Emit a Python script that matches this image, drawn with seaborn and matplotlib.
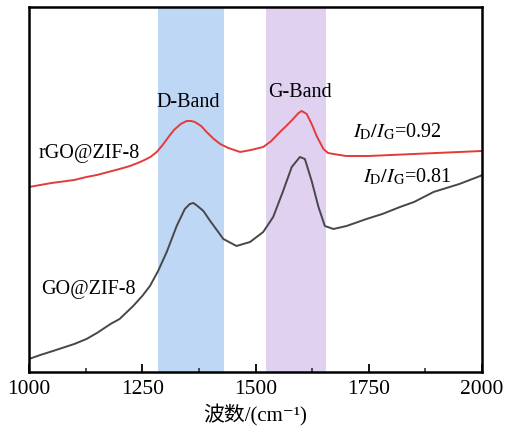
import matplotlib
matplotlib.use("Agg")
import matplotlib.pyplot as plt
from matplotlib.ticker import MultipleLocator
import pandas as pd
import seaborn as sns

# Raman spectra (wavenumber in cm^-1, intensity in arbitrary units)
rgo_wavenumber = [1000, 1050, 1100, 1127, 1150, 1175, 1200, 1223, 1240, 1255, 1268, 1282,
                  1295, 1308, 1320, 1335, 1348, 1358, 1366, 1380, 1392, 1408, 1422, 1440,
                  1466, 1490, 1517, 1535, 1554, 1570, 1583, 1595, 1602, 1613, 1624,
                  1635, 1643, 1650, 1660, 1672, 1700, 1750, 1800, 1850, 1900, 1950,
                  2000]
rgo_intensity = [185, 189, 192, 195, 197, 200, 203, 206, 209, 212, 215, 220,
                 227, 235, 242, 248, 251, 251, 250, 246, 240, 233, 228, 224,
                 220, 222, 225, 231, 240, 247, 253, 259, 261, 258, 248,
                 236, 229, 223, 219, 218, 216, 216, 217, 218, 219, 220,
                 221]

go_wavenumber = [1000, 1025, 1053, 1100, 1127, 1150, 1180, 1200, 1230, 1250, 1267,
                 1285, 1304, 1326, 1344, 1355, 1363, 1372, 1385, 1400, 1429, 1458,
                 1488, 1517, 1539, 1561, 1580, 1598, 1609, 1624, 1639, 1653, 1672,
                 1701, 1745, 1780, 1819, 1850, 1893, 1950, 1996, 2000]
go_intensity = [13, 17, 21, 28, 33, 39, 48, 53, 66, 76, 86,
                101, 120, 146, 163, 168, 169, 166, 161, 151, 133, 126,
                130, 140, 155, 181, 205, 215, 213, 191, 165, 146, 143,
                146, 153, 158, 165, 170, 180, 188, 196, 197]

d_band = (1285, 1430)
g_band = (1523, 1656)
ratio_rgo = 0.92
ratio_go = 0.81

df = pd.concat([
    pd.DataFrame({"wavenumber": rgo_wavenumber, "intensity": rgo_intensity, "sample": "rGO@ZIF-8"}),
    pd.DataFrame({"wavenumber": go_wavenumber, "intensity": go_intensity, "sample": "GO@ZIF-8"}),
])

sns.set_theme(style="white")
plt.rcParams["font.family"] = ["Liberation Serif", "Noto Sans CJK SC", "DejaVu Serif"]
plt.rcParams["mathtext.fontset"] = "stix"
plt.rcParams["text.color"] = "black"

fig = plt.figure(figsize=(5.06, 4.27), dpi=100)
ax = fig.add_axes([0.0573, 0.1265, 0.8953, 0.8548])

ax.axvspan(*d_band, color="#bdd7f5", lw=0, zorder=0)
ax.axvspan(*g_band, color="#e0d1f1", lw=0, zorder=0)

sns.lineplot(data=df, x="wavenumber", y="intensity", hue="sample",
             palette={"rGO@ZIF-8": "#e23b3b", "GO@ZIF-8": "#474747"},
             linewidth=1.4, legend=False, sort=False, estimator=None, ax=ax)

ax.set_xlim(1000, 2000)
ax.set_ylim(0, 365)
ax.set_yticks([])
ax.set_ylabel("")
ax.set_xlabel("波数/(cm⁻¹)", fontsize=15, labelpad=4, color="black")
ax.xaxis.set_major_locator(MultipleLocator(250))
ax.xaxis.set_minor_locator(MultipleLocator(125))
ax.tick_params(axis="x", which="major", direction="in", length=6, width=1.3,
               bottom=True, top=False, labelsize=15.5, pad=5, colors="black")
ax.tick_params(axis="x", which="minor", direction="in", length=3, width=1.1,
               bottom=True, top=False)
for s in ax.spines.values():
    s.set_visible(True)
    s.set_color("black")
    s.set_linewidth(1.8)

fs = 14.5
ax.text(1351, 270, "D-Band", ha="center", va="center", fontsize=fs)
ax.text(1598, 280, "G-Band", ha="center", va="center", fontsize=fs)
ax.text(1020, 219, "rGO@ZIF-8", ha="left", va="center", fontsize=fs)
ax.text(1026, 83, "GO@ZIF-8", ha="left", va="center", fontsize=fs)
ax.text(1715, 241, r"$I_\mathrm{D}/I_\mathrm{G}$" + f"={ratio_rgo:.2f}",
        ha="left", va="center", fontsize=fs)
ax.text(1737, 196, r"$I_\mathrm{D}/I_\mathrm{G}$" + f"={ratio_go:.2f}",
        ha="left", va="center", fontsize=fs)

fig.savefig("out.png", dpi=100)
